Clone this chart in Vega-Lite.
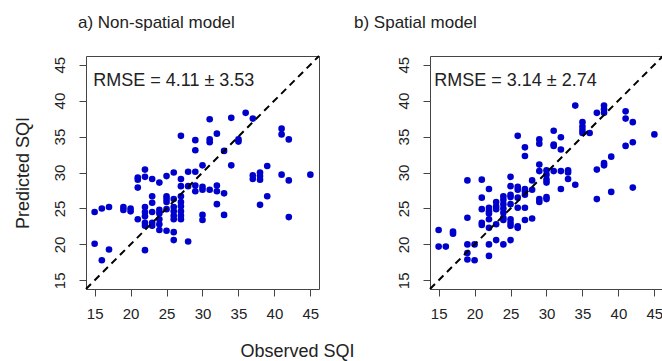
{
  "$schema": "https://vega.github.io/schema/vega-lite/v6.json",
  "padding": {"left": 13, "top": 13, "right": 0, "bottom": 0},
  "background": "white",
  "spacing": 111,
  "bounds": "flush",
  "config": {
    "font": "Liberation Sans",
    "view": {"stroke": "#444", "strokeWidth": 1},
    "axis": {"grid": false, "domain": false, "ticks": true, "tickSize": 7, "tickColor": "#444", "labelFontSize": 15, "labelColor": "#222", "labelFont": "Liberation Sans", "labelOverlap": false, "labelSeparation": 0, "titleFont": "Liberation Sans", "titleColor": "#222", "titleFontWeight": "normal", "titleFontSize": 18},
    "title": {"fontSize": 17, "fontWeight": "normal", "font": "Liberation Sans", "color": "#222", "anchor": "start", "frame": "group", "baseline": "alphabetic", "offset": 20}
  },
  "datasets": {
    "identity": [{"o": 13.8, "p": 13.8}, {"o": 46.2, "p": 46.2}],
    "labels": [
      {"panel": "a", "o": 14.8, "p": 42.7, "label": "RMSE = 4.11 ± 3.53"},
      {"panel": "b", "o": 14.4, "p": 42.7, "label": "RMSE = 3.14 ± 2.74"}
    ],
    "nonspatial": [
      {"o": 15, "p": 24.5}, {"o": 15, "p": 20.1},
      {"o": 16, "p": 25.0}, {"o": 16, "p": 17.8},
      {"o": 17, "p": 25.2}, {"o": 17, "p": 19.3},
      {"o": 19, "p": 25.2}, {"o": 19, "p": 24.8},
      {"o": 20, "p": 25.0}, {"o": 20, "p": 24.6},
      {"o": 21, "p": 29.3}, {"o": 21, "p": 29.0}, {"o": 21, "p": 27.9}, {"o": 21, "p": 23.5},
      {"o": 22, "p": 30.4}, {"o": 22, "p": 29.4}, {"o": 22, "p": 25.2}, {"o": 22, "p": 24.5}, {"o": 22, "p": 23.9}, {"o": 22, "p": 23.0}, {"o": 22, "p": 22.6}, {"o": 22, "p": 19.2},
      {"o": 23, "p": 29.1}, {"o": 23, "p": 26.7}, {"o": 23, "p": 25.8}, {"o": 23, "p": 24.5}, {"o": 23, "p": 23.0}, {"o": 23, "p": 22.6},
      {"o": 24, "p": 28.6}, {"o": 24, "p": 24.8}, {"o": 24, "p": 24.3}, {"o": 24, "p": 23.5}, {"o": 24, "p": 22.8}, {"o": 24, "p": 22.0},
      {"o": 25, "p": 29.5}, {"o": 25, "p": 26.7}, {"o": 25, "p": 26.3}, {"o": 25, "p": 25.9}, {"o": 25, "p": 24.9}, {"o": 25, "p": 21.9},
      {"o": 26, "p": 30.0}, {"o": 26, "p": 26.3}, {"o": 26, "p": 25.2}, {"o": 26, "p": 24.6}, {"o": 26, "p": 24.0}, {"o": 26, "p": 23.5}, {"o": 26, "p": 21.7}, {"o": 26, "p": 20.6},
      {"o": 27, "p": 35.1}, {"o": 27, "p": 29.1}, {"o": 27, "p": 28.1}, {"o": 27, "p": 26.7}, {"o": 27, "p": 25.9}, {"o": 27, "p": 25.3}, {"o": 27, "p": 24.6}, {"o": 27, "p": 24.0}, {"o": 27, "p": 23.5},
      {"o": 28, "p": 30.1}, {"o": 28, "p": 28.1}, {"o": 28, "p": 20.4},
      {"o": 29, "p": 34.5}, {"o": 29, "p": 33.1}, {"o": 29, "p": 30.1}, {"o": 29, "p": 28.2}, {"o": 29, "p": 27.4},
      {"o": 30, "p": 31.0}, {"o": 30, "p": 28.0}, {"o": 30, "p": 27.6}, {"o": 30, "p": 24.1}, {"o": 30, "p": 23.4},
      {"o": 31, "p": 37.4}, {"o": 31, "p": 34.6}, {"o": 31, "p": 34.2}, {"o": 31, "p": 27.6},
      {"o": 32, "p": 35.4}, {"o": 32, "p": 28.2}, {"o": 32, "p": 27.4}, {"o": 32, "p": 25.6},
      {"o": 33, "p": 33.0}, {"o": 33, "p": 27.1}, {"o": 33, "p": 24.1},
      {"o": 34, "p": 37.6}, {"o": 34, "p": 31.0},
      {"o": 35, "p": 34.6}, {"o": 35, "p": 34.3},
      {"o": 36, "p": 38.3},
      {"o": 37, "p": 37.5}, {"o": 37, "p": 29.6}, {"o": 37, "p": 29.1},
      {"o": 38, "p": 30.0}, {"o": 38, "p": 29.5}, {"o": 38, "p": 29.0}, {"o": 38, "p": 25.5},
      {"o": 39, "p": 30.9}, {"o": 39, "p": 26.7},
      {"o": 41, "p": 36.1}, {"o": 41, "p": 35.3}, {"o": 41, "p": 29.7},
      {"o": 42, "p": 34.6}, {"o": 42, "p": 28.9}, {"o": 42, "p": 23.8},
      {"o": 45, "p": 29.7}
    ],
    "spatial": [
      {"o": 15, "p": 22.0}, {"o": 15, "p": 19.7},
      {"o": 16, "p": 19.7},
      {"o": 17, "p": 21.8}, {"o": 17, "p": 21.5},
      {"o": 19, "p": 28.9}, {"o": 19, "p": 23.7}, {"o": 19, "p": 20.0}, {"o": 19, "p": 18.8}, {"o": 19, "p": 17.9},
      {"o": 20, "p": 20.0}, {"o": 20, "p": 17.8},
      {"o": 21, "p": 29.0}, {"o": 21, "p": 26.5}, {"o": 21, "p": 24.9}, {"o": 21, "p": 23.0}, {"o": 21, "p": 22.7},
      {"o": 22, "p": 27.7}, {"o": 22, "p": 25.1}, {"o": 22, "p": 24.6}, {"o": 22, "p": 24.3}, {"o": 22, "p": 23.5}, {"o": 22, "p": 22.3}, {"o": 22, "p": 20.0}, {"o": 22, "p": 18.4},
      {"o": 23, "p": 25.9}, {"o": 23, "p": 25.3}, {"o": 23, "p": 24.9}, {"o": 23, "p": 22.8}, {"o": 23, "p": 20.6},
      {"o": 24, "p": 26.7}, {"o": 24, "p": 26.2}, {"o": 24, "p": 25.6}, {"o": 24, "p": 25.0}, {"o": 24, "p": 24.4}, {"o": 24, "p": 23.7}, {"o": 24, "p": 23.4}, {"o": 24, "p": 20.0},
      {"o": 25, "p": 29.4}, {"o": 25, "p": 28.1}, {"o": 25, "p": 26.9}, {"o": 25, "p": 26.6}, {"o": 25, "p": 25.6}, {"o": 25, "p": 23.5}, {"o": 25, "p": 23.0}, {"o": 25, "p": 22.6}, {"o": 25, "p": 20.6},
      {"o": 26, "p": 35.1}, {"o": 26, "p": 28.0}, {"o": 26, "p": 27.6}, {"o": 26, "p": 26.5}, {"o": 26, "p": 25.1}, {"o": 26, "p": 22.5}, {"o": 26, "p": 22.3},
      {"o": 27, "p": 33.5}, {"o": 27, "p": 32.3}, {"o": 27, "p": 27.7}, {"o": 27, "p": 27.4}, {"o": 27, "p": 26.9}, {"o": 27, "p": 25.1}, {"o": 27, "p": 23.4},
      {"o": 28, "p": 28.9}, {"o": 28, "p": 27.6}, {"o": 28, "p": 23.6},
      {"o": 29, "p": 34.6}, {"o": 29, "p": 34.0}, {"o": 29, "p": 31.1}, {"o": 29, "p": 30.2}, {"o": 29, "p": 26.3}, {"o": 29, "p": 25.9},
      {"o": 30, "p": 30.3}, {"o": 30, "p": 29.7}, {"o": 30, "p": 29.0}, {"o": 30, "p": 28.6}, {"o": 30, "p": 26.6}, {"o": 30, "p": 26.3},
      {"o": 31, "p": 35.8}, {"o": 31, "p": 33.9}, {"o": 31, "p": 33.7}, {"o": 31, "p": 30.2},
      {"o": 32, "p": 34.9}, {"o": 32, "p": 33.2}, {"o": 32, "p": 30.2}, {"o": 32, "p": 27.7},
      {"o": 33, "p": 30.3}, {"o": 33, "p": 30.0}, {"o": 33, "p": 29.1},
      {"o": 34, "p": 39.3}, {"o": 34, "p": 28.3},
      {"o": 35, "p": 37.0}, {"o": 35, "p": 36.4}, {"o": 35, "p": 35.9}, {"o": 35, "p": 35.5},
      {"o": 36, "p": 35.5},
      {"o": 37, "p": 38.3}, {"o": 37, "p": 30.4}, {"o": 37, "p": 26.3},
      {"o": 38, "p": 39.3}, {"o": 38, "p": 38.8}, {"o": 38, "p": 38.3}, {"o": 38, "p": 31.3}, {"o": 38, "p": 31.0},
      {"o": 39, "p": 32.2}, {"o": 39, "p": 27.3},
      {"o": 41, "p": 38.5}, {"o": 41, "p": 37.5}, {"o": 41, "p": 33.7},
      {"o": 42, "p": 37.0}, {"o": 42, "p": 34.2}, {"o": 42, "p": 27.9},
      {"o": 45, "p": 35.3}
    ]
  },
  "hconcat": [
    {
      "width": 233, "height": 233,
      "title": {"text": "a) Non-spatial model", "dx": -8},
      "encoding": {
        "x": {"field": "o", "type": "quantitative", "scale": {"domain": [13.8, 46.2], "nice": false, "zero": false},
          "axis": {"values": [15, 20, 25, 30, 35, 40, 45], "labelOverlap": false, "labelBaseline": "middle", "labelPadding": 17, "title": "Observed SQI", "titleX": 211, "titleY": 67, "titleAlign": "center", "titleBaseline": "alphabetic"}},
        "y": {"field": "p", "type": "quantitative", "scale": {"domain": [13.8, 46.2], "nice": false, "zero": false},
          "axis": {"values": [15, 20, 25, 30, 35, 40, 45], "labelOverlap": false, "labelAngle": -90, "labelAlign": "center", "labelBaseline": "middle", "labelPadding": 20, "title": "Predicted SQI", "titleX": -63, "titleY": 116.5, "titleAngle": -90, "titleAlign": "center", "titleBaseline": "middle"}}
      },
      "layer": [
        {
          "data": {"name": "nonspatial"},
          "mark": {"type": "circle", "color": "#0000CD", "size": 44, "opacity": 1}
        },
        {
          "data": {"name": "identity"},
          "mark": {"type": "line", "stroke": "black", "strokeWidth": 2, "strokeDash": [7, 5]}
        },
        {
          "data": {"name": "labels"},
          "transform": [{"filter": "datum.panel == 'a'"}],
          "mark": {"type": "text", "align": "left", "baseline": "middle", "fontSize": 18, "color": "#222"},
          "encoding": {"text": {"field": "label"}}
        }
      ]
    },
    {
      "width": 233, "height": 233,
      "title": {"text": "b) Spatial model", "dx": -76},
      "encoding": {
        "x": {"field": "o", "type": "quantitative", "scale": {"domain": [13.8, 46.2], "nice": false, "zero": false},
          "axis": {"values": [15, 20, 25, 30, 35, 40, 45], "labelOverlap": false, "labelBaseline": "middle", "labelPadding": 17, "title": null}},
        "y": {"field": "p", "type": "quantitative", "scale": {"domain": [13.8, 46.2], "nice": false, "zero": false},
          "axis": {"values": [15, 20, 25, 30, 35, 40, 45], "labelOverlap": false, "labelAngle": -90, "labelAlign": "center", "labelBaseline": "middle", "labelPadding": 20, "title": null}}
      },
      "layer": [
        {
          "data": {"name": "spatial"},
          "mark": {"type": "circle", "color": "#0000CD", "size": 44, "opacity": 1}
        },
        {
          "data": {"name": "identity"},
          "mark": {"type": "line", "stroke": "black", "strokeWidth": 2, "strokeDash": [7, 5]}
        },
        {
          "data": {"name": "labels"},
          "transform": [{"filter": "datum.panel == 'b'"}],
          "mark": {"type": "text", "align": "left", "baseline": "middle", "fontSize": 18, "color": "#222"},
          "encoding": {"text": {"field": "label"}}
        }
      ]
    }
  ]
}
